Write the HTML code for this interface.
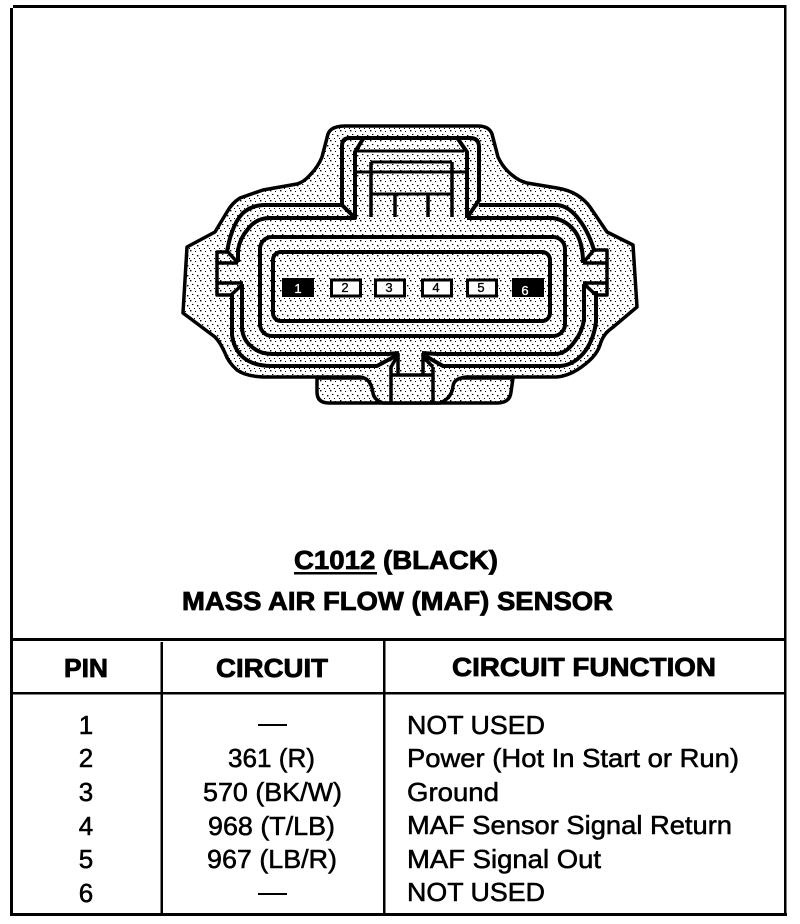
<!DOCTYPE html>
<html><head><meta charset="utf-8"><style>
html,body{margin:0;padding:0;background:#fff;width:800px;height:924px;overflow:hidden}
svg{display:block}
text{font-family:"Liberation Sans",sans-serif;fill:#000;stroke:#000;stroke-width:.55px}
.h{font-weight:bold;font-size:26px;stroke-width:.8px}
.p{font-size:13px;stroke-width:.35px;text-anchor:middle}
</style></head><body>
<svg width="800" height="924" viewBox="0 0 800 924" xmlns="http://www.w3.org/2000/svg">
<defs>
<pattern id="st" width="10" height="10" patternUnits="userSpaceOnUse">
<rect width="10" height="10" fill="#fff"/>
<rect x="0" y="0" width="1.4" height="1.4" fill="#000"/>
<rect x="5" y="1" width="1" height="1" fill="#000"/>
<rect x="2" y="4" width="1.4" height="1" fill="#000"/>
<rect x="7" y="5" width="1.4" height="1.4" fill="#000"/>
<rect x="4" y="8" width="1" height="1" fill="#000"/>
<rect x="9" y="8" width="1" height="1" fill="#000"/>
</pattern>
</defs>
<rect width="800" height="924" fill="#fff"/>

<!-- frame -->
<g fill="#000">
<rect x="13" y="5" width="773" height="3"/>
<rect x="10" y="8" width="3" height="907"/>
<rect x="784" y="5" width="2.5" height="910"/>
<rect x="10" y="913" width="777" height="3"/>
<rect x="13" y="638" width="773" height="3"/>
<rect x="13" y="692" width="773" height="2.5"/>
<rect x="160.5" y="642" width="2.5" height="272"/>
<rect x="383" y="641" width="2.5" height="272"/>
</g>

<!-- connector -->
<g stroke="#000" stroke-width="3.5" stroke-linejoin="round" fill="none">
<path fill="url(#st)" d="M317 378V392Q317 403 329 403H497Q510 403 511 392L513 378Z"/>
<path fill="url(#st)" d="M345 126H478Q489 126 492 134L498 157Q503 168 512 175Q519 181 527 183L557 188Q569 190 577 195Q585 200 590 207L607 232L633 245L637 307L612 328Q603 334 600 345Q596 358 577 370Q567 376 557 377H467Q454 378 453 386Q452 398 440 403H383Q374 400 373 393Q371 378 360 377H263Q245 376 237 370Q228 362 225 353Q220 342 215 337L183 313L187 247L215 232L227 212Q232 203 240 198L263 190L297 184Q304 182 310 175Q318 167 322 157L328 134Q331 126 345 126Z"/>

<!-- outer shroud line -->
<path stroke-width="4" d="M227 252Q229 240 232 232Q236 220 243 213Q252 205 265 205H342V146Q342 138 350 138H470Q479 138 479 147V200L467 218"/>
<path stroke-width="4" d="M342 205L355 218"/>
<path stroke-width="4" d="M479 205H557Q568 206 577 217Q588 230 594 250"/>
<path stroke-width="4" d="M238 262V250Q240 238 248 229Q256 218 270 218H355V152L363 139"/>
<path stroke-width="4" d="M467 218V152L458 139"/>
<path stroke-width="4" d="M467 218H553Q565 220 573 229Q583 240 583 263"/>

<!-- top inner details -->
<path stroke-width="3" d="M356 151H464M371 162H452M356 172H468M371 194H452"/>
<path stroke-width="3.5" d="M371 162V217M452 162V217M395 194V217M428 194V217"/>

<!-- side latches -->
<path d="M228 252H217V295H231M217 263H238M228 252L238 263M217 283H243M243 284L231 295"/>
<path d="M594 250H607V295H595M583 263H607M594 250L583 263M583 283H607M584 284L596 295"/>

<!-- lower lines -->
<path stroke-width="4" d="M242 284V328Q243 340 251 346Q259 354 272 354H388L399 353"/>
<path stroke-width="4" d="M232 295V335Q234 350 244 358Q254 366 272 366H377L399 354"/>
<path stroke-width="4" d="M584 284V320Q582 332 575 341Q566 354 555 354H437L422 353"/>
<path stroke-width="4" d="M596 291V322Q594 338 586 350Q575 365 560 366H443L422 354"/>

<!-- bottom centre key -->
<path stroke-width="3.5" d="M398 353V375M423 353V375M391 366V402M433 367V402M391 375H433"/>
<path d="M398 355L391 367M423 357L433 367"/>

<!-- inner rounded rects -->
<rect x="260" y="237" width="305" height="99" rx="12" ry="12" stroke-width="4"/>
<rect x="273" y="252" width="277" height="69" rx="8" ry="8" stroke-width="4"/>
</g>

<!-- pins -->
<g>
<rect x="282" y="278" width="32" height="19" fill="#000"/>
<rect x="512" y="278" width="32" height="19" fill="#000"/>
<g fill="#fff" stroke="#000" stroke-width="3">
<rect x="331.5" y="280" width="29" height="16"/>
<rect x="375.5" y="280" width="29" height="16"/>
<rect x="422.5" y="280" width="29" height="16"/>
<rect x="467.5" y="280" width="29" height="16"/>
</g>
<text class="p" x="298" y="293" style="fill:#fff;stroke:#fff">1</text>
<text class="p" x="345" y="292">2</text>
<text class="p" x="389" y="292">3</text>
<text class="p" x="436" y="292">4</text>
<text class="p" x="481" y="292">5</text>
<text class="p" x="525" y="295" style="fill:#fff;stroke:#fff">6</text>
</g>

<!-- titles -->
<text class="h" x="294" y="569" textLength="204" lengthAdjust="spacingAndGlyphs">C1012 (BLACK)</text>
<rect x="294" y="572" width="83" height="2.5" fill="#000"/>
<text class="h" x="182" y="610" textLength="431" lengthAdjust="spacingAndGlyphs">MASS AIR FLOW (MAF) SENSOR</text>

<!-- table headings -->
<text class="h" x="64" y="677" textLength="44" lengthAdjust="spacingAndGlyphs">PIN</text>
<text class="h" x="216" y="677" textLength="112" lengthAdjust="spacingAndGlyphs">CIRCUIT</text>
<text class="h" x="452" y="676" textLength="264" lengthAdjust="spacingAndGlyphs">CIRCUIT FUNCTION</text>

<!-- pin numbers -->
<g style="font-size:26px;text-anchor:middle">
<text x="86" y="734">1</text>
<text x="86" y="767">2</text>
<text x="86" y="801">3</text>
<text x="86" y="835">4</text>
<text x="86" y="868">5</text>
<text x="86" y="902">6</text>
</g>

<!-- circuits -->
<rect x="258" y="724" width="29" height="2" fill="#000"/>
<rect x="258" y="893" width="29" height="2" fill="#000"/>
<g style="font-size:26px">
<text x="228" y="767" textLength="87" lengthAdjust="spacingAndGlyphs">361 (R)</text>
<text x="203" y="801" textLength="139" lengthAdjust="spacingAndGlyphs">570 (BK/W)</text>
<text x="208" y="835" textLength="127" lengthAdjust="spacingAndGlyphs">968 (T/LB)</text>
<text x="207" y="868" textLength="130" lengthAdjust="spacingAndGlyphs">967 (LB/R)</text>
</g>

<!-- functions -->
<g style="font-size:26px">
<text x="407" y="734" textLength="138" lengthAdjust="spacingAndGlyphs">NOT USED</text>
<text x="407" y="767" textLength="332" lengthAdjust="spacingAndGlyphs">Power (Hot In Start or Run)</text>
<text x="407" y="801" textLength="92" lengthAdjust="spacingAndGlyphs">Ground</text>
<text x="407" y="834" textLength="325" lengthAdjust="spacingAndGlyphs">MAF Sensor Signal Return</text>
<text x="407" y="868" textLength="194" lengthAdjust="spacingAndGlyphs">MAF Signal Out</text>
<text x="407" y="901" textLength="138" lengthAdjust="spacingAndGlyphs">NOT USED</text>
</g>
</svg>
</body></html>
